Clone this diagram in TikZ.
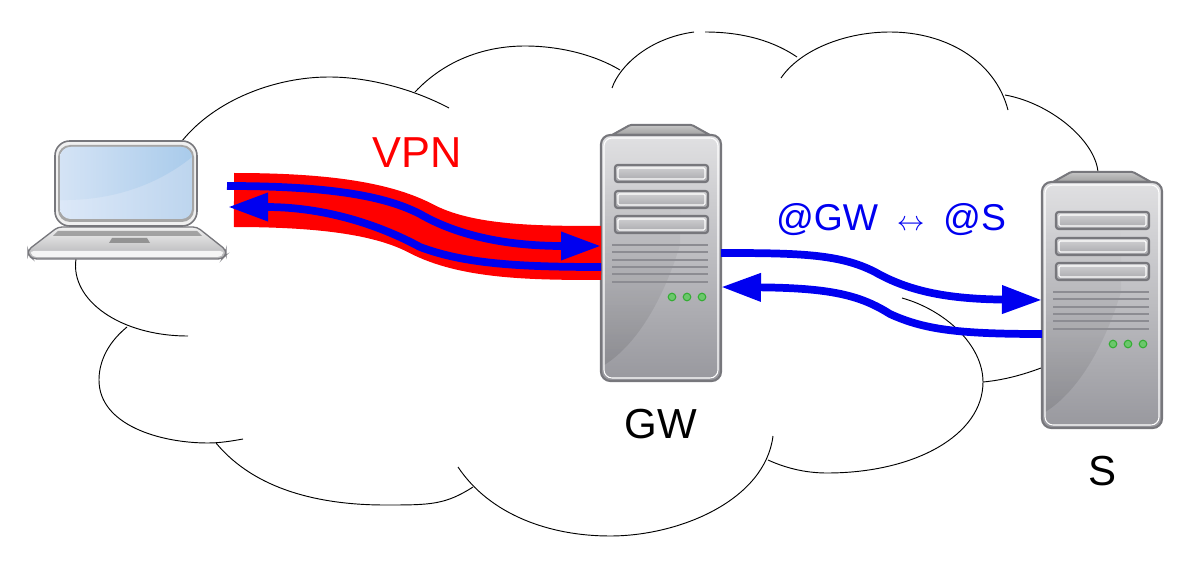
\documentclass[tikz,border=0pt]{standalone}
\usepackage{fontspec}
\setmainfont{Liberation Sans}
\usetikzlibrary{arrows.meta, calc, fadings, positioning}

\definecolor{frame}{HTML}{77777C}
\definecolor{ventgray}{HTML}{8C8C92}
\definecolor{netblue}{HTML}{0000F0}

\tikzset{
	cloudline/.style={draw=black, line width=0.7pt},
	srvbox/.style={minimum width=90pt, minimum height=184.5pt, inner sep=0pt, outer sep=0pt},
	tube/.style={draw=red, line width=40.5pt},
	flow/.style={draw=netblue, line width=5.8pt, -{Triangle[length=30pt, width=20pt]}},
	lbl/.style={font=\fontsize{31.5}{34}\selectfont, inner sep=0pt},
	bay/.pic={
		\draw[frame, line width=1.6pt, rounded corners=2pt, top color={rgb,255:red,212;green,212;blue,214}, bottom color={rgb,255:red,166;green,166;blue,170}] (14,#1) rectangle (107,#1+17);
		\draw[white, line width=0.8pt, rounded corners=1pt] (17,#1+3) rectangle (104,#1+14);
	},
	server/.pic={
		\draw[frame, line width=1.5pt, top color=gray!45, bottom color=gray!75, rounded corners=1pt] (11,0) -- (29,-10) -- (91,-10) -- (109,0) -- cycle;
		\draw[frame, line width=1.6pt, top color={rgb,255:red,224;green,224;blue,226}, bottom color={rgb,255:red,152;green,152;blue,158}, rounded corners=7pt] (0,0) rectangle (120,246);
		\begin{scope}
			\clip[rounded corners=6pt] (3,3) rectangle (117,243);
			\fill[black, opacity=0.1, path fading=north] (0,232) .. controls (35,212) and (62,165) .. (79,110) -- (79,40) -- (0,40) -- cycle;
		\end{scope}
		\draw[white, line width=0.8pt, rounded corners=6pt] (3,3) rectangle (117,243);
		\pic {bay=30}; \pic {bay=56}; \pic {bay=81};
		\foreach \y in {110,117,125,132,139,147}
			\draw[ventgray, line width=1.1pt] (11,\y) -- (107,\y);
		\foreach \x in {71,86,101}
			\draw[green!60!black!80, line width=0.8pt, fill=green!45!gray!80] (\x,162) circle (3.8);
	},
	laptop/.pic={
		% base
		\draw[frame, line width=1pt, top color={rgb,255:red,240;green,240;blue,240}, bottom color={rgb,255:red,178;green,178;blue,180}, rounded corners=3pt] (3,86) -- (142,86) -- (171,109) -- (171,114) -- (167,118) -- (-22,118) -- (-27,114) -- (-27,109) -- cycle;
		\fill[gray!90!white, opacity=0.75] (-2,95) -- (147,95) -- (142,90) -- (3,90) -- cycle;
		\fill[gray!85!white] (54,102) -- (95,102) -- (92,97) -- (57,97) -- cycle;
		\fill[white!92!gray, rounded corners=2pt] (-24,110) -- (168,110) -- (168,113) -- (165,116) -- (-21,116) -- (-24,113) -- cycle;
		% screen
		\draw[frame, line width=1.2pt, fill=white!88!gray, rounded corners=11pt] (0,0) rectangle (142,85);
		\fill[gray!70!white, rounded corners=9pt] (3,4) rectangle (139,81);
		\begin{scope}
			\clip[rounded corners=8pt] (5,6) rectangle (137,78);
			\shade[left color={rgb,255:red,220;green,232;blue,248}, right color={rgb,255:red,189;green,213;blue,238}] (5,6) rectangle (137,78);
			\shade[left color={rgb,255:red,212;green,227;blue,245}, right color={rgb,255:red,169;green,203;blue,235}] (5,6) -- (137,6) -- (137,16) .. controls (105,42) and (60,60) .. (5,59) -- cycle;
		\end{scope}
	}
}

\begin{document}
\begin{tikzpicture}[x=0.75pt, y=-0.75pt]
	\useasboundingbox (0,0) rectangle (1179,563);

	% cloud
	\draw[cloudline] (182,141) .. controls (215,100) and (275,77) .. (329,77) .. controls (370,77) and (415,90) .. (449,108);
	\draw[cloudline] (415,92) .. controls (445,60) and (485,46) .. (525,46) .. controls (560,46) and (595,55) .. (620,70);
	\draw[cloudline] (612,88) .. controls (620,65) and (650,38) .. (694,32);
	\draw[cloudline] (705,32) .. controls (745,32) and (775,42) .. (797,57);
	\draw[cloudline] (781,78) .. controls (800,50) and (845,32) .. (890,32) .. controls (945,32) and (995,60) .. (1008,110);
	\draw[cloudline] (1005,95) .. controls (1050,103) and (1095,140) .. (1098,172);
	\draw[cloudline] (76,259) .. controls (70,300) and (120,336) .. (188,336);
	\draw[cloudline] (127,327) .. controls (105,345) and (99,365) .. (99,380) .. controls (99,425) and (160,443) .. (208,443) .. controls (220,443) and (232,441) .. (243,439);
	\draw[cloudline] (216,443) .. controls (255,490) and (320,505) .. (385,505) .. controls (430,505) and (445,505) .. (473,487);
	\draw[cloudline] (458,467) .. controls (490,515) and (550,536) .. (610,536) .. controls (680,536) and (765,500) .. (773,436);
	\draw[cloudline] (768,460) .. controls (790,470) and (810,473) .. (827,473) .. controls (915,473) and (983,435) .. (983,382) .. controls (983,345) and (945,310) .. (902,298);
	\draw[cloudline] (983,382) .. controls (1005,380) and (1025,374) .. (1041,368);

	% machines
	\pic at (55,141) {laptop};
	\node[srvbox] (GW) at (661,258) {};
	\node[srvbox] (S) at (1102,305) {};
	\pic at (GW.north west) {server};
	\pic at (S.north west) {server};

	% tunnel
	\coordinate (tubeL) at (234,200);
	\coordinate (outL) at (227,186);
	\coordinate (backL) at (228,207);
	\draw[tube] (tubeL) .. controls (330,200) and (385,210) .. (420,228) .. controls (465,252) and (530,253) .. ($(GW.west)+(0,-5)$);
	\draw[flow] (outL) .. controls (330,186) and (385,196) .. (420,214) .. controls (465,240) and (520,246) .. ($(GW.west)+(0,-12)$);
	\draw[flow] ($(GW.west)+(0,9)$) .. controls (520,267) and (465,264) .. (420,247) .. controls (385,228) and (330,207) .. (backL);

	% GW to S
	\draw[flow] ($(GW.east)+(0,-5)$) .. controls (800,253) and (840,254) .. (875,272) .. controls (910,292) and (950,299) .. ($(S.west)+(0,-5)$);
	\draw[flow] ($(S.west)+(0,29)$) .. controls (960,334) and (925,330) .. (890,314) .. controls (860,295) and (830,288) .. ($(GW.east)+(0,29)$);

	% labels
	\node[lbl, text=red, font=\fontsize{32.5}{34}\selectfont] (vpn) at (417,153) {VPN};
	\node[lbl, below=21pt of GW] (gwlabel) {GW};
	\node[lbl, below=21pt of S] (slabel) {S};
	\node[lbl, text=netblue, font=\fontsize{28}{30}\selectfont] (addr) at (891,220) {@GW\hspace{14pt}{\fontsize{21}{21}\selectfont$\leftrightarrow$}\hspace{14pt}@S};
\end{tikzpicture}
\end{document}
